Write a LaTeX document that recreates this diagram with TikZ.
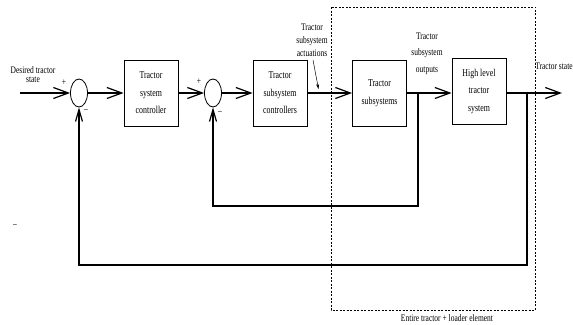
\documentclass[tikz,border=0pt]{standalone}
\usepackage{fontspec}
\setmainfont{Liberation Serif}[FakeStretch=0.75]
\usetikzlibrary{arrows.meta,shapes.geometric}
\begin{document}
\begin{tikzpicture}[x=1pt,y=-1pt,
  blk/.style={draw, line width=0.8pt, minimum width=54pt, minimum height=66pt, inner sep=0pt, align=center, font=\fontsize{10.5}{17.5}\selectfont},
  sum/.style={draw, ellipse, line width=0.8pt, minimum width=17pt, minimum height=28pt, inner sep=0pt},
  conn/.style={line width=1.2pt},
  arr/.style={conn, -{Straight Barb[length=15pt,width=11pt,line width=1.2pt]}},
  farr/.style={conn, -{Straight Barb[length=12pt,width=7pt,line width=1.2pt]}},
  lbl/.style={align=center, inner sep=0pt, font=\fontsize{10}{13}\selectfont},
  sign/.style={inner sep=0pt, font=\fontsize{10}{10}\selectfont},
  frame/.style={dashed, dash pattern=on 2pt off 1.5pt, line width=0.6pt}]
\useasboundingbox (0,0) rectangle (573,324);
% blocks
\node[sum] (j1) at (79,93) {};
\node[sum] (j2) at (213,93) {};
\node[blk] (b1) at (151,93) {Tractor\\system\\controller};
\node[blk] (b2) at (280,93) {Tractor\\subsystem\\controllers};
\node[blk] (b3) at (379.5,93) {Tractor\\subsystems};
\node[blk] (b4) at (479,91) {High level\\tractor\\system};
% coordinates
\coordinate (in) at (20,93);
\coordinate (out) at (562,93);
\coordinate (o1) at (527,93);
\coordinate (o2) at (418,93);
\coordinate (f1) at (527,265);
\coordinate (f2) at (418,206);
\coordinate (p1) at (313,60);
\coordinate (p2) at (318.5,89);
% labels
\node[lbl, font=\fontsize{10}{9.5}\selectfont] (lin) at (33,74.5) {Desired tractor\\state};
\node[lbl] (lact) at (312,40) {Tractor\\subsystem\\actuations};
\node[lbl, font=\fontsize{10}{16.5}\selectfont] (lout) at (427,53.5) {Tractor\\subsystem\\outputs};
\node[lbl] (lst) at (554,66) {Tractor state};
\node[lbl] (lent) at (447,318) {Entire tractor + loader element};
\node[sign] (s1) at (64,83) {+};
\node[sign] (s2) at (86,111) {\textendash};
\node[sign] (s3) at (199,82) {+};
\node[sign] (s4) at (220,113) {\textendash};
\node[sign] (s5) at (15,226) {\textendash};
% connectors
\draw[arr] (in) -- (j1.west);
\draw[arr] (j1.east) -- (b1.west);
\draw[arr] (b1.east) -- (j2.west);
\draw[arr] (j2.east) -- (b2.west);
\draw[arr] (b2.east) -- (b3.west);
\draw[arr] (b3.east) -- (b4.west |- b3.east);
\draw[arr] (b4.east |- out) -- (out);
\draw[farr] (o1) -- (f1) -| (j1.south);
\draw[farr] (o2) -- (f2) -| (j2.south);
\draw[line width=0.5pt, -{Stealth[length=5pt,width=3pt]}] (p1) -- (p2);
% dashed frame
\draw[frame] (331,7) rectangle (535,310);
\end{tikzpicture}
\end{document}
